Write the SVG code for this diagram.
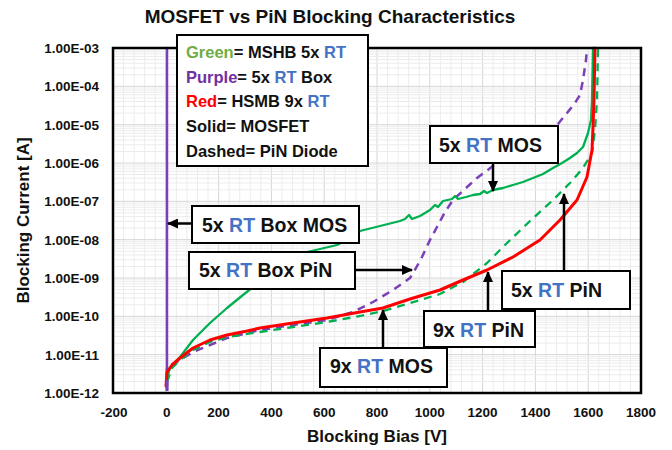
<svg xmlns="http://www.w3.org/2000/svg" xmlns:xlink="http://www.w3.org/1999/xlink" width="672" height="450" viewBox="0 0 672 450">
<style>
text{font-family:"Liberation Sans",Arial,sans-serif;font-weight:bold;fill:#111}
.tick{font-size:13.5px}
.ytick{font-size:13.5px;text-anchor:end}
.xtick{font-size:13.5px;text-anchor:middle}
.leg{font-size:16.5px}
.lab{font-size:19.5px}
.rt{fill:#4472C4}
.minor{stroke:#ECECEC;stroke-width:1;fill:none}
.major{stroke:#D6D6D6;stroke-width:1;fill:none}
.box{fill:#fff;stroke:#000;stroke-width:2}
.arr{stroke:#000;stroke-width:2.5;fill:none;marker-end:url(#ah)}
.c{fill:none;stroke-linejoin:round;stroke-linecap:round}
.g{stroke:#00B050;stroke-width:2.3}
.r{stroke:#FF0000;stroke-width:3}
.p{stroke:#7B3FB8;stroke-width:2.5}
.d{stroke-dasharray:8 6;stroke-linecap:butt}
</style>
<defs>
<marker id="ah" markerUnits="userSpaceOnUse" markerWidth="12" markerHeight="10" refX="10" refY="5" orient="auto">
<path d="M0,0L11,5L0,10Z" fill="#000"/>
</marker>
<g id="dec">
<path class="minor" d="M113,-11.54H641M113,-18.29H641M113,-23.08H641M113,-26.79H641M113,-29.83H641M113,-32.39H641M113,-34.61H641M113,-36.58H641"/>
<path class="major" d="M113,0H641"/>
</g>
<g id="vcol">
<path class="minor" d="M10.56,48V393M21.12,48V393M31.68,48V393M42.24,48V393"/>
<path class="major" d="M0,48V393"/>
</g>
</defs>
<rect width="672" height="450" fill="#fff"/>
<g id="grid">
<use xlink:href="#vcol" x="113"/><use xlink:href="#vcol" x="165.8"/><use xlink:href="#vcol" x="218.6"/><use xlink:href="#vcol" x="271.4"/><use xlink:href="#vcol" x="324.2"/><use xlink:href="#vcol" x="377"/><use xlink:href="#vcol" x="429.8"/><use xlink:href="#vcol" x="482.6"/><use xlink:href="#vcol" x="535.4"/><use xlink:href="#vcol" x="588.2"/>
<use xlink:href="#dec" y="393"/><use xlink:href="#dec" y="354.667"/><use xlink:href="#dec" y="316.333"/><use xlink:href="#dec" y="278"/><use xlink:href="#dec" y="239.667"/><use xlink:href="#dec" y="201.333"/><use xlink:href="#dec" y="163"/><use xlink:href="#dec" y="124.667"/><use xlink:href="#dec" y="86.333"/>
</g>
<g id="curves">
<path class="c p" d="M167,48V386"/>
<path class="c p d" d="M167,390L167,367L180,360L193,352L227,338L260,330L293,325L327,320L353,312L373,302L393,290L410,278L416,268L422,257L430,240L437,227L445,212L453,200L466,188L477,178L497,163L530,143L558,124L567,113L575,103L580,95L583,80L586,60L587,48"/>
<path class="c g d" d="M167,382L172,368L180,360L193,350L210,342L227,337L260,332L293,327L327,322L360,316L383,311L410,303L420,300L440,294L463,282L487,263L507,243L530,221L553,200L570,183L583,168L592,153L595,130L597,100L598,48"/>
<path class="c g" d="M167,378L170,368L180,357L193,340L210,323L227,308L243,295L253,287L265,279L280,270L300,256L307,252L320,249L337,245L350,238L360,231L380,226L400,221L405,219L409,215L412,219L420,216L425,213L430,210L435,205L438,207L443,201L452,199L455,196L458,199L466,197L473,195L480,194L484,191L487,193L493,190L503,188L513,185L523,182L533,178L543,174L553,168L562,163L570,158L577,153L583,147L588,133L591,120L592,100L593,48"/>
<path class="c r" d="M166,386L167,372L172,365L180,358L193,348L210,340L227,335L247,331L260,328L293,323L327,318L360,312L383,308L410,299L420,296L440,290L463,280L487,270L513,257L540,240L560,220L577,200L587,177L592,150L593,127L594,100L595,48"/>
<path d="M167,380V391" stroke="#7B3FB8" stroke-width="3"/>
</g>
<rect id="frame" x="113" y="48" width="528" height="345" fill="none" stroke="#000" stroke-width="2.5"/>
<g id="yaxis">
<text class="ytick" x="99" y="53">1.00E-03</text>
<text class="ytick" x="99" y="91.3">1.00E-04</text>
<text class="ytick" x="99" y="129.7">1.00E-05</text>
<text class="ytick" x="99" y="168">1.00E-06</text>
<text class="ytick" x="99" y="206.3">1.00E-07</text>
<text class="ytick" x="99" y="244.7">1.00E-08</text>
<text class="ytick" x="99" y="283">1.00E-09</text>
<text class="ytick" x="99" y="321.3">1.00E-10</text>
<text class="ytick" x="99" y="359.7">1.00E-11</text>
<text class="ytick" x="99" y="398">1.00E-12</text>
<text x="29" y="220.5" font-size="17" text-anchor="middle" transform="rotate(-90 29 220.5)">Blocking Current [A]</text>
</g>
<g id="xaxis">
<text class="xtick" x="114" y="417">-200</text>
<text class="xtick" x="166.8" y="417">0</text>
<text class="xtick" x="218.6" y="417">200</text>
<text class="xtick" x="271.4" y="417">400</text>
<text class="xtick" x="324.2" y="417">600</text>
<text class="xtick" x="377" y="417">800</text>
<text class="xtick" x="429.8" y="417">1000</text>
<text class="xtick" x="482.6" y="417">1200</text>
<text class="xtick" x="535.4" y="417">1400</text>
<text class="xtick" x="588.2" y="417">1600</text>
<text class="xtick" x="641" y="417">1800</text>
<text x="377" y="442" font-size="17" text-anchor="middle">Blocking Bias [V]</text>
</g>
<text id="title" x="330" y="23" font-size="19" text-anchor="middle">MOSFET vs PiN Blocking Characteristics</text>
<g id="legend">
<rect class="box" x="177" y="35" width="191" height="131"/>
<text class="leg" x="186" y="58"><tspan fill="#70AD47">Green</tspan>= MSHB 5x <tspan class="rt">RT</tspan></text>
<text class="leg" x="186" y="83"><tspan fill="#7030A0">Purple</tspan>= 5x <tspan class="rt">RT</tspan> Box</text>
<text class="leg" x="186" y="107"><tspan fill="#FF0000">Red</tspan>= HSMB 9x <tspan class="rt">RT</tspan></text>
<text class="leg" x="186" y="132">Solid= MOSFET</text>
<text class="leg" x="186" y="157">Dashed= PiN Diode</text>
</g>
<g id="connectors">
<path class="arr" d="M192,223.5H168"/>
<path class="arr" d="M355,270H412"/>
<path class="arr" d="M383,348V310"/>
<path class="arr" d="M488,311V272"/>
<path class="arr" d="M564,271V194"/>
<path class="arr" d="M493,163V191"/>
</g>
<g id="box-mos-5x-box">
<rect class="box" x="192" y="206" width="167" height="37"/>
<text class="lab" x="202" y="232">5x <tspan class="rt">RT</tspan> Box MOS</text>
</g>
<g id="box-pin-5x-box">
<rect class="box" x="189" y="252" width="166" height="37"/>
<text class="lab" x="199" y="277">5x <tspan class="rt">RT</tspan> Box PiN</text>
</g>
<g id="box-mos-9x">
<rect class="box" x="320" y="348" width="127" height="39"/>
<text class="lab" x="330" y="373">9x <tspan class="rt">RT</tspan> MOS</text>
</g>
<g id="box-pin-9x">
<rect class="box" x="424" y="311" width="111" height="36"/>
<text class="lab" x="433" y="336.5">9x <tspan class="rt">RT</tspan> PiN</text>
</g>
<g id="box-pin-5x">
<rect class="box" x="502" y="271" width="128" height="38"/>
<text class="lab" x="511" y="296.5">5x <tspan class="rt">RT</tspan> PiN</text>
</g>
<g id="box-mos-5x">
<rect class="box" x="430" y="126" width="128" height="37"/>
<text class="lab" x="439" y="151.5">5x <tspan class="rt">RT</tspan> MOS</text>
</g>
</svg>
